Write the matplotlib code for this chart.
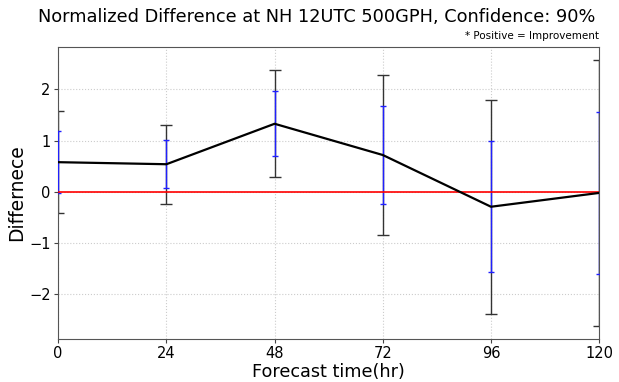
import numpy as np
import matplotlib
matplotlib.use("Agg")
import matplotlib.pyplot as plt

# forecast lead times and normalized difference
hours = [0, 24, 48, 72, 96, 120]
mean_diff = [0.58, 0.54, 1.33, 0.72, -0.29, -0.02]
# wide (black) and narrow (blue) confidence half-widths
err_outer = [0.99, 0.77, 1.04, 1.57, 2.09, 2.59]
err_inner = [0.60, 0.47, 0.63, 0.95, 1.28, 1.58]
xtick_labels = ["0", "24", "48", "72", "96", "120"]


def plot_diff(out_file="out.png"):
    fig, ax = plt.subplots(figsize=(6.19, 3.82), dpi=100)
    fig.subplots_adjust(left=0.094, right=0.968, top=0.877, bottom=0.113)

    ax.errorbar(hours, mean_diff, yerr=err_outer, fmt="none", ecolor="#333333",
                elinewidth=1.0, capsize=4, capthick=1.0, zorder=2)
    ax.errorbar(hours, mean_diff, yerr=err_inner, fmt="none", ecolor="#2020ff",
                elinewidth=1.0, capsize=2, capthick=1.0, zorder=3)
    ax.plot(hours, mean_diff, color="black", lw=1.6, zorder=4)
    ax.axhline(0, color="red", lw=1.2, zorder=3.5)

    ax.set_xlim(0, 120)
    ax.set_xticks(hours)
    ax.set_xticklabels(xtick_labels)
    ax.set_yticks([-2, -1, 0, 1, 2])
    ax.tick_params(labelsize=10.5, length=3, pad=2.5, colors="#444444", labelcolor="black")
    ax.grid(True, ls=":", color="#cccccc", lw=0.8)
    for s in ax.spines.values():
        s.set_color("#555555")

    ax.set_xlabel("Forecast time(hr)", fontsize=12.7, labelpad=1)
    ax.set_ylabel("Differnece", fontsize=13.5, labelpad=2)
    fig.text(0.511, 0.955, "Normalized Difference at NH 12UTC 500GPH, Confidence: 90%",
             ha="center", va="center", fontsize=12.8)
    ax.text(1.0, 1.02, "* Positive = Improvement", transform=ax.transAxes,
            ha="right", va="bottom", fontsize=7.5)

    fig.savefig(out_file, dpi=100)
    plt.close(fig)


plot_diff()
